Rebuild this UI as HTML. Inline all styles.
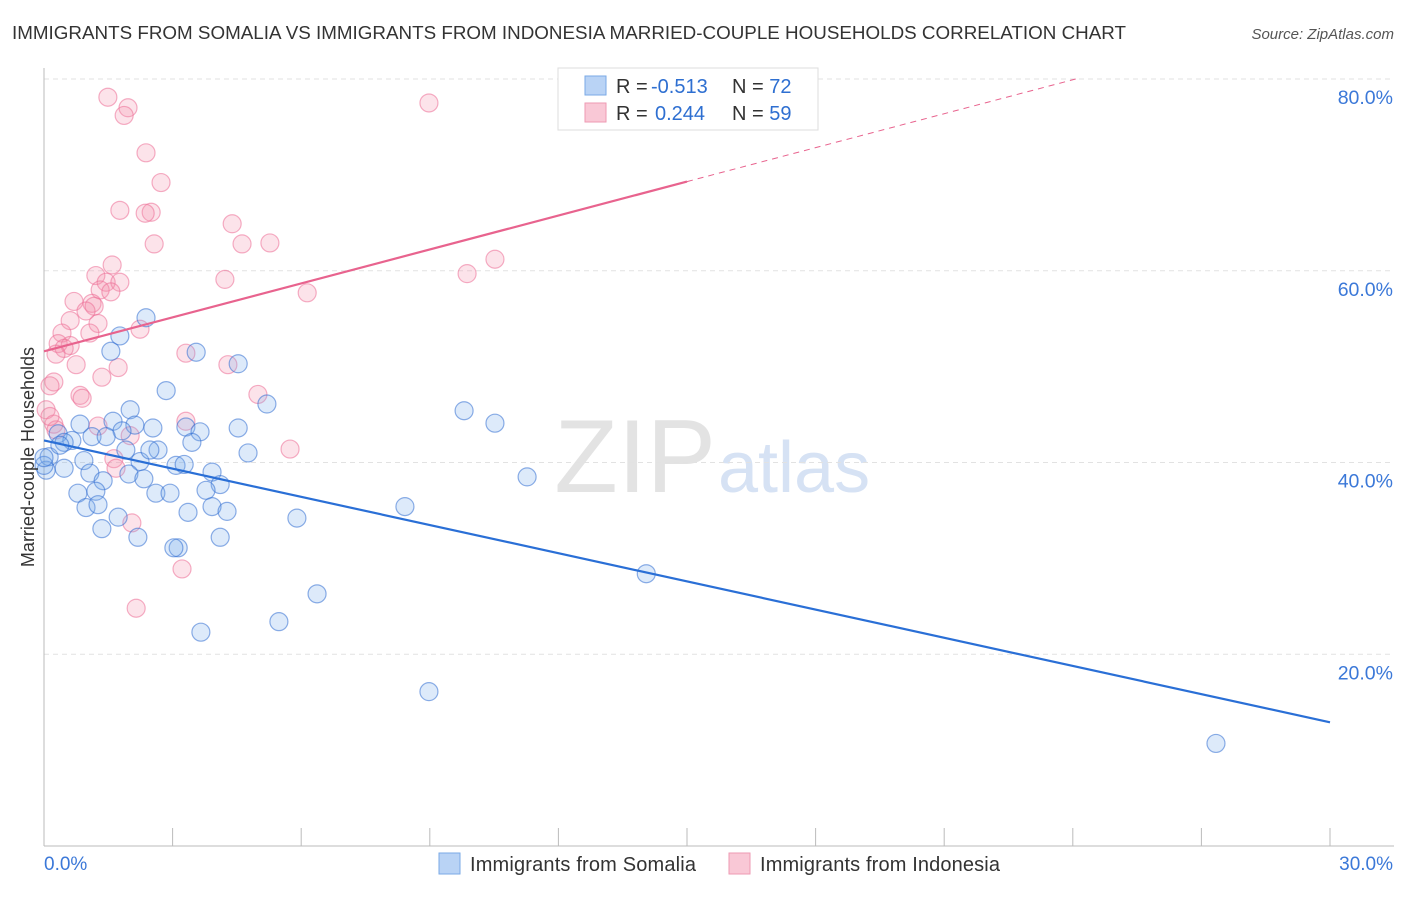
<!DOCTYPE html>
<html><head><meta charset="utf-8"><style>
body{margin:0;background:#fff;font-family:"Liberation Sans",sans-serif;}
svg text{font-family:"Liberation Sans",sans-serif;}
</style></head><body>
<svg id="chart" width="1406" height="892" viewBox="0 0 1406 892" xmlns="http://www.w3.org/2000/svg">
<text x="12" y="39" font-size="18" fill="#333" textLength="1114" lengthAdjust="spacingAndGlyphs">IMMIGRANTS FROM SOMALIA VS IMMIGRANTS FROM INDONESIA MARRIED-COUPLE HOUSEHOLDS CORRELATION CHART</text>
<text x="1394" y="39" font-size="15" fill="#555" font-style="italic" text-anchor="end">Source: ZipAtlas.com</text>
<text x="716" y="492" font-size="104" fill="#e3e3e3" font-family="Liberation Serif" text-anchor="end">ZIP</text>
<text x="718" y="492" font-size="72" fill="#d6e2f4">atlas</text>
<g id="grid"></g>
<g id="axes"></g>
<g id="marks"></g>
<text transform="translate(34,457) rotate(-90)" font-size="18" fill="#333" text-anchor="middle">Married-couple Households</text>
<g>
<rect x="558" y="68" width="260" height="62" fill="#fff" stroke="#ddd"/>
<rect x="585" y="76" width="21" height="19" fill="#b9d3f5" stroke="#7aa9e6"/>
<rect x="585" y="103" width="21" height="19" fill="#f9c8d6" stroke="#ee9ab3"/>
<text x="616" y="93" font-size="20" fill="#333">R = <tspan x="651" fill="#2e6fd1">-0.513</tspan><tspan x="732">N = </tspan><tspan fill="#2e6fd1">72</tspan></text>
<text x="616" y="120" font-size="20" fill="#333">R = <tspan x="655" fill="#2e6fd1">0.244</tspan><tspan x="732">N = </tspan><tspan fill="#2e6fd1">59</tspan></text>
</g>
<g>
<rect x="439" y="853" width="21" height="21" fill="#b9d3f5" stroke="#7aa9e6"/>
<text x="470" y="871" font-size="20" fill="#333" textLength="226">Immigrants from Somalia</text>
<rect x="729" y="853" width="21" height="21" fill="#f9c8d6" stroke="#ee9ab3"/>
<text x="760" y="871" font-size="20" fill="#333" textLength="240">Immigrants from Indonesia</text>
</g>
</svg>
<script>
const xTicks=[0,3,6,9,12,15,18,21,24,27,30];
const xTickLabels=["0.0%","30.0%"];
const yTicks=[20,40,60,80];
const yTickLabels=["20.0%","40.0%","60.0%","80.0%"];
const somaliaX=[2.38,1.77,1.56,3.55,4.53,2.85,5.20,2.01,9.80,10.52,0.84,1.61,2.12,2.54,3.31,1.82,0.33,1.12,1.45,3.64,4.53,0.65,0.47,3.45,1.91,4.76,2.66,0.12,0.93,2.24,3.08,3.27,0.47,0.05,3.92,1.07,1.98,2.33,1.38,11.27,4.11,0.79,1.21,2.61,2.94,3.78,0.98,1.26,3.92,3.36,4.27,8.42,5.90,1.73,1.35,2.19,4.11,3.13,3.03,14.05,6.37,5.48,3.66,8.98,27.34,0.0,0.37,2.47,0.0];
const somaliaY=[55.1,53.2,51.6,51.5,50.3,47.5,46.1,45.5,45.4,44.1,44.0,44.3,43.9,43.6,43.7,43.3,43.0,42.7,42.7,43.2,43.6,42.3,42.1,42.1,41.3,41.0,41.3,40.6,40.2,40.1,39.7,39.8,39.4,39.2,39.0,38.9,38.8,38.3,38.1,38.5,37.7,36.8,37.0,36.8,36.8,37.1,35.3,35.6,35.4,34.8,34.9,35.4,34.2,34.3,33.1,32.2,32.2,31.1,31.1,28.4,26.3,23.4,22.3,16.1,10.7,39.7,41.8,41.3,40.5];
const indonesiaX=[1.49,1.96,1.87,8.98,2.38,2.73,1.77,2.50,2.36,4.39,2.57,4.62,5.27,1.59,1.21,9.87,10.52,4.22,1.45,1.77,1.31,1.56,6.14,0.70,1.12,1.17,0.98,0.61,1.26,2.24,0.42,1.07,0.33,0.61,0.47,0.28,0.75,1.73,3.31,4.29,1.35,0.23,0.14,0.84,0.89,0.05,4.99,0.23,3.31,1.26,2.01,1.63,1.68,5.74,2.05,3.22,2.15,0.28,0.14];
const indonesiaY=[78.1,77.0,76.2,77.5,72.3,69.2,66.3,66.1,66.0,64.9,62.8,62.8,62.9,60.6,59.5,59.7,61.2,59.1,58.8,58.8,58.0,57.8,57.7,56.8,56.6,56.3,55.8,54.8,54.5,53.9,53.5,53.5,52.4,52.2,51.9,51.3,50.2,49.9,51.4,50.2,48.9,48.4,48.0,47.0,46.7,45.5,47.1,44.0,44.3,43.8,42.8,40.4,39.4,41.4,33.7,28.9,24.8,43.4,44.8];
const somaliaTrend=[42.3,12.9];
const indonesiaTrend=[51.6,69.3];
const indonesiaSolidEnd=15.0;

const X0=44,X1=1330,YB=846,YT=79;
function xs(v){return X0+(v/30)*(X1-X0);}
function ys(v){return YB-(v/80)*(YB-YT);}
const NS="http://www.w3.org/2000/svg";
function mk(tag,attrs,parent){const e=document.createElementNS(NS,tag);for(const k in attrs)e.setAttribute(k,attrs[k]);parent.appendChild(e);return e;}
const grid=document.getElementById('grid'),axes=document.getElementById('axes'),marks=document.getElementById('marks');
yTicks.forEach((t,i)=>{
  const l=mk('line',{x1:X0,x2:1394,y1:ys(t),y2:ys(t),stroke:'#e2e2e2','stroke-dasharray':'5,4'},grid);
  
  
  const tx=mk('text',{x:1393,y:ys(t)+25,'font-size':19.5,fill:'#3b78d8','text-anchor':'end'},axes);
  tx.textContent=yTickLabels[i];
  
  
});
const ya=mk('line',{x1:X0,x2:X0,y1:68,y2:YB,stroke:'#bbb'},axes);


const xa=mk('line',{x1:X0,x2:1394,y1:YB,y2:YB,stroke:'#bbb'},axes);


xTicks.forEach(t=>{
  const l=mk('line',{x1:xs(t),x2:xs(t),y1:828,y2:YB,stroke:'#bbb'},axes);
  
  
});
const xl0=mk('text',{x:44,y:870,'font-size':19,fill:'#3b78d8'},axes);
xl0.textContent=xTickLabels[0];


const xl1=mk('text',{x:1393,y:870,'font-size':19,fill:'#3b78d8','text-anchor':'end'},axes);
xl1.textContent=xTickLabels[1];



indonesiaX.forEach((x,i)=>{
  const c=mk('circle',{cx:xs(x),cy:ys(indonesiaY[i]),r:9,fill:'rgba(244,143,172,0.25)',stroke:'rgba(236,110,150,0.55)','stroke-width':1.2},marks);
  
  
});
somaliaX.forEach((x,i)=>{
  const c=mk('circle',{cx:xs(x),cy:ys(somaliaY[i]),r:9,fill:'rgba(120,170,235,0.25)',stroke:'rgba(50,110,210,0.55)','stroke-width':1.2},marks);
  
  
});
const sl=mk('line',{x1:xs(0),y1:ys(somaliaTrend[0]),x2:xs(30),y2:ys(somaliaTrend[1]),stroke:'#2a6fd6','stroke-width':2.2},marks);


const slope=(indonesiaTrend[1]-indonesiaTrend[0])/indonesiaSolidEnd;
const pl=mk('line',{x1:xs(0),y1:ys(indonesiaTrend[0]),x2:xs(indonesiaSolidEnd),y2:ys(indonesiaTrend[1]),stroke:'#e8638e','stroke-width':2.2},marks);


const xEnd=(80-indonesiaTrend[0])/slope;
const pd=mk('line',{x1:xs(indonesiaSolidEnd),y1:ys(indonesiaTrend[1]),x2:xs(xEnd),y2:ys(80),stroke:'#e8638e','stroke-width':1,'stroke-dasharray':'6,5'},marks);


</script>
</body></html>
